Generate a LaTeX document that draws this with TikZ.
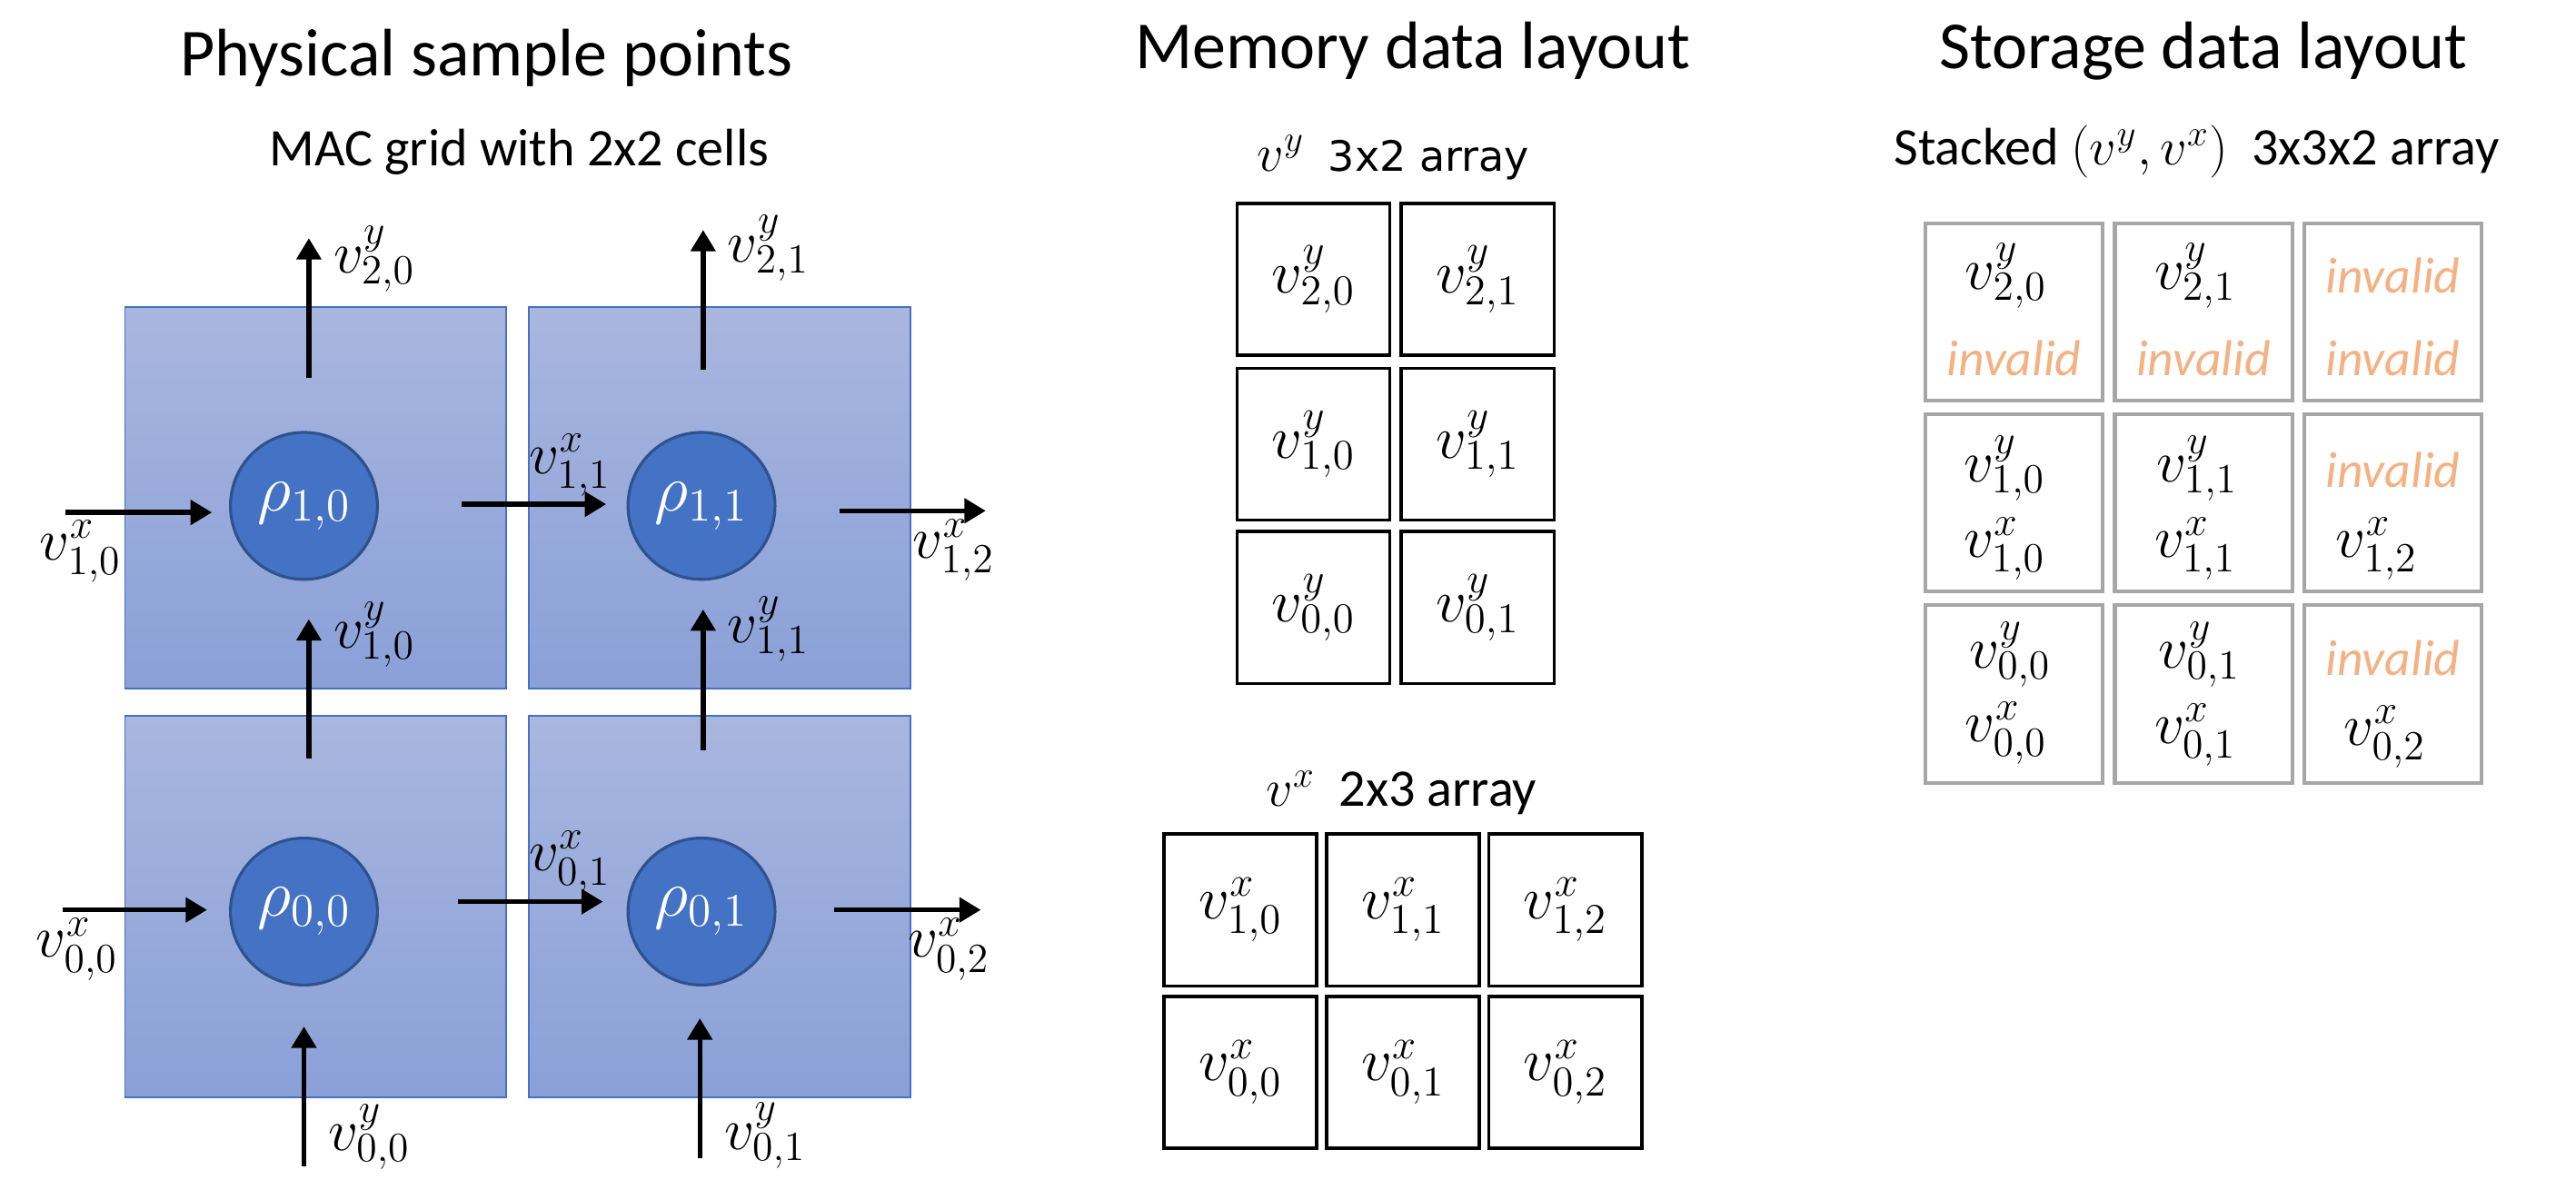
\documentclass[tikz,border=0pt]{standalone}
\usepackage{fix-cm}
\usepackage{fontspec}
\setmainfont{Carlito}
\newfontfamily\dejavu{DejaVu Sans}
\usetikzlibrary{positioning,arrows.meta}
\definecolor{celltop}{HTML}{A9B6DF}
\definecolor{cellbot}{HTML}{8AA0D7}
\definecolor{cellline}{HTML}{4472C4}
\definecolor{rhofill}{HTML}{4472C4}
\definecolor{rholine}{HTML}{2F528F}
\definecolor{stgray}{HTML}{A6A6A6}
\definecolor{invcol}{HTML}{F4B183}
\newcommand{\setsz}[1]{\fontsize{#1}{#1}\selectfont}
\tikzstyle{heading} = [font=\setsz{23.3}, anchor=base]
\tikzstyle{subhead} = [font=\setsz{18.3}, anchor=base]
\tikzstyle{cell} = [draw=cellline, line width=0.6pt, top color=celltop,
    bottom color=cellbot, minimum width=4.64cm, minimum height=4.64cm, inner sep=0pt]
\tikzstyle{dens} = [draw=rholine, line width=1pt, fill=rhofill, circle,
    minimum size=1.79cm, inner sep=0pt, text=white, font=\setsz{23}]
\tikzstyle{vel} = [->, line width=1.7pt]
\tikzstyle{lab} = [font=\setsz{20.5}, inner sep=2pt]
\tikzstyle{mem} = [draw, rectangle, line width=1.1pt,
    minimum width=1.86cm, minimum height=1.85cm, inner sep=0pt, font=\setsz{21}]
\tikzstyle{sto} = [draw=stgray, rectangle, line width=1.3pt, minimum size=2.16cm, inner sep=0pt]
\tikzstyle{inv} = [text=invcol, font=\setsz{17.5}\itshape]

\begin{document}
\begin{tikzpicture}[x=0.02cm, y=-0.02cm, >={Triangle[length=7.4pt,width=8.4pt]}]
        \useasboundingbox (0,0) rectangle (1568,718);
        % Headings first
        \node [heading] (hphys) at (296,46) {Physical sample points};
        \node [subhead] (hmac) at (316,101) {MAC grid with 2x2 cells};
        \node [heading] (hmem) at (860,42) {Memory data layout};
        \node [heading] (hsto) at (1341,42) {Storage data layout};

        % The grid cells and their sample points
        \node [cell] (c10) at (192,303) {};
        \node [cell, right=0.26cm of c10] (c11) {};
        \node [cell, below=0.32cm of c10] (c00) {};
        \node [cell, right=0.26cm of c00] (c01) {};
        \node [dens] (r10) at (185,308) {$\rho_{1,0}$};
        \node [dens] (r11) at (427,308) {$\rho_{1,1}$};
        \node [dens] (r00) at (185,555) {$\rho_{0,0}$};
        \node [dens] (r01) at (427,555) {$\rho_{0,1}$};

        % Velocities sit on the cell faces
        \coordinate (vy20s) at (188,230); \coordinate (vy20e) at (188,145);
        \coordinate (vy21s) at (428,225); \coordinate (vy21e) at (428,140);
        \coordinate (vy10s) at (188,462); \coordinate (vy10e) at (188,377);
        \coordinate (vy11s) at (428,457); \coordinate (vy11e) at (428,371);
        \coordinate (vy00s) at (185,710); \coordinate (vy00e) at (185,625);
        \coordinate (vy01s) at (426,705); \coordinate (vy01e) at (426,620);
        \coordinate (vx10s) at (40,312);  \coordinate (vx10e) at (129,312);
        \coordinate (vx11s) at (281,307); \coordinate (vx11e) at (369,307);
        \coordinate (vx12s) at (511,311); \coordinate (vx12e) at (600,311);
        \coordinate (vx00s) at (38,554);  \coordinate (vx00e) at (126,554);
        \coordinate (vx01s) at (279,549); \coordinate (vx01e) at (367,549);
        \coordinate (vx02s) at (508,554); \coordinate (vx02e) at (597,554);

        \draw [vel] (vy20s) -- node [lab, pos=0.85, right=0.2cm] (ly20) {$v^y_{2,0}$} (vy20e);
        \draw [vel] (vy21s) -- node [lab, pos=0.87, right=0.2cm] (ly21) {$v^y_{2,1}$} (vy21e);
        \draw [vel] (vy10s) -- node [lab, pos=0.89, right=0.2cm] (ly10) {$v^y_{1,0}$} (vy10e);
        \draw [vel] (vy11s) -- node [lab, pos=0.86, right=0.2cm] (ly11) {$v^y_{1,1}$} (vy11e);
        \draw [vel] (vy00s) -- node [lab, pos=0.21, right=0.2cm] (ly00) {$v^y_{0,0}$} (vy00e);
        \draw [vel] (vy01s) -- node [lab, pos=0.16, right=0.2cm] (ly01) {$v^y_{0,1}$} (vy01e);
        \draw [vel] (vx10s) -- node [lab, pos=0.1, below] (lx10) {$v^x_{1,0}$} (vx10e);
        \draw [vel] (vx11s) -- node [lab, pos=0.75, above] (lx11) {$v^x_{1,1}$} (vx11e);
        \draw [vel] (vx12s) -- node [lab, pos=0.78, below] (lx12) {$v^x_{1,2}$} (vx12e);
        \draw [vel] (vx00s) -- node [lab, pos=0.1, below] (lx00) {$v^x_{0,0}$} (vx00e);
        \draw [vel] (vx01s) -- node [lab, pos=0.77, above] (lx01) {$v^x_{0,1}$} (vx01e);
        \draw [vel] (vx02s) -- node [lab, pos=0.78, below] (lx02) {$v^x_{0,2}$} (vx02e);

        % Memory layout: one array per component
        \node [subhead] (hvy) at (848,104) {$v^y$\ \ {\dejavu\setsz{14.5}3x2 array}};
        \node [mem] (my20) at (799.5,170) {$v^y_{2,0}$};
        \node [mem, right=0.1cm of my20] (my21) {$v^y_{2,1}$};
        \node [mem, below=0.12cm of my20] (my10) {$v^y_{1,0}$};
        \node [mem, right=0.1cm of my10] (my11) {$v^y_{1,1}$};
        \node [mem, below=0.1cm of my10] (my00) {$v^y_{0,0}$};
        \node [mem, right=0.1cm of my00] (my01) {$v^y_{0,1}$};

        \node [subhead] (hvx) at (853,491) {$v^x$\ \ 2x3 array};
        \node [mem] (mx10) at (755,554) {$v^x_{1,0}$};
        \node [mem, right=0.08cm of mx10] (mx11) {$v^x_{1,1}$};
        \node [mem, right=0.08cm of mx11] (mx12) {$v^x_{1,2}$};
        \node [mem, below=0.09cm of mx10] (mx00) {$v^x_{0,0}$};
        \node [mem, right=0.08cm of mx00] (mx01) {$v^x_{0,1}$};
        \node [mem, right=0.08cm of mx01] (mx02) {$v^x_{0,2}$};

        % Storage layout: both components stacked in one array
        \node [subhead] (hstk) at (1337,100.5) {Stacked $(v^y,v^x)$\ \ 3x3x2 array};
        \node [sto] (s20) at (1226,190) {};
        \node [sto, right=0.1cm of s20] (s21) {};
        \node [sto, right=0.1cm of s21] (s22) {};
        \node [sto, below=0.12cm of s20] (s10) {};
        \node [sto, right=0.1cm of s10] (s11) {};
        \node [sto, right=0.1cm of s11] (s12) {};
        \node [sto, below=0.12cm of s10] (s00) {};
        \node [sto, right=0.1cm of s00] (s01) {};
        \node [sto, right=0.1cm of s01] (s02) {};

        \node [lab] (s20a) at ([xshift=-0.1cm,yshift=0.44cm]s20.center) {$v^y_{2,0}$};
        \node [inv] (s20b) at ([yshift=-0.56cm]s20.center) {invalid};
        \node [lab] (s21a) at ([xshift=-0.1cm,yshift=0.44cm]s21.center) {$v^y_{2,1}$};
        \node [inv] (s21b) at ([yshift=-0.56cm]s21.center) {invalid};
        \node [inv] (s22a) at ([yshift=0.44cm]s22.center) {invalid};
        \node [inv] (s22b) at ([yshift=-0.56cm]s22.center) {invalid};
        \node [lab] (s10a) at ([xshift=-0.12cm,yshift=0.42cm]s10.center) {$v^y_{1,0}$};
        \node [lab] (s10b) at ([xshift=-0.12cm,yshift=-0.56cm]s10.center) {$v^x_{1,0}$};
        \node [lab] (s11a) at ([xshift=-0.08cm,yshift=0.42cm]s11.center) {$v^y_{1,1}$};
        \node [lab] (s11b) at ([xshift=-0.1cm,yshift=-0.56cm]s11.center) {$v^x_{1,1}$};
        \node [inv] (s12a) at ([yshift=0.4cm]s12.center) {invalid};
        \node [lab] (s12b) at ([xshift=-0.2cm,yshift=-0.56cm]s12.center) {$v^x_{1,2}$};
        \node [lab] (s00a) at ([xshift=-0.05cm,yshift=0.48cm]s00.center) {$v^y_{0,0}$};
        \node [lab] (s00b) at ([xshift=-0.1cm,yshift=-0.48cm]s00.center) {$v^x_{0,0}$};
        \node [lab] (s01a) at ([xshift=-0.05cm,yshift=0.48cm]s01.center) {$v^y_{0,1}$};
        \node [lab] (s01b) at ([xshift=-0.1cm,yshift=-0.5cm]s01.center) {$v^x_{0,1}$};
        \node [inv] (s02a) at ([yshift=0.44cm]s02.center) {invalid};
        \node [lab] (s02b) at ([xshift=-0.1cm,yshift=-0.52cm]s02.center) {$v^x_{0,2}$};
\end{tikzpicture}
\end{document}
